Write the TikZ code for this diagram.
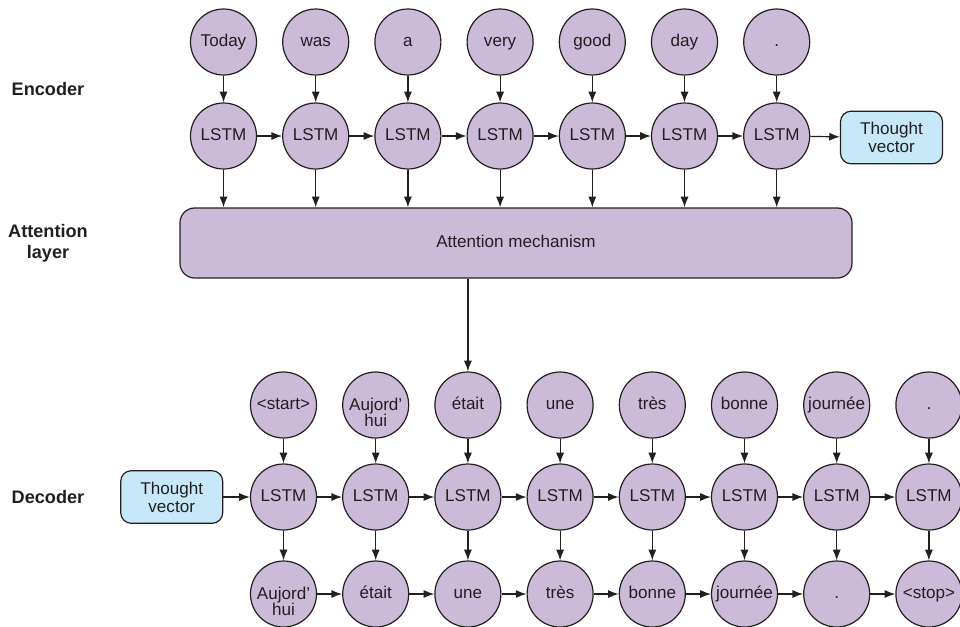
\documentclass[tikz,border=0pt]{standalone}
\usepackage{fontspec}
\setmainfont{Liberation Sans}
\usetikzlibrary{arrows.meta}
\definecolor{lstmfill}{RGB}{203,186,216}
\definecolor{tvfill}{RGB}{198,232,248}
\definecolor{edge}{RGB}{35,31,32}
\newcommand{\mytwo}[2]{\raisebox{-13pt}[0pt][0pt]{\vbox{\baselineskip=12pt\halign{\hfil##\hfil\cr #1\cr #2\cr}}}}
\begin{document}
\begin{tikzpicture}[x=0.75pt,y=-0.75pt,
  cell/.style={circle,draw=edge,fill=lstmfill,line width=0.9pt,minimum size=49.5pt,inner sep=0pt,align=center,text=edge,text height=9.2pt,text depth=2.8pt,font=\fontsize{12.8}{12.8}\selectfont},
  tvbox/.style={rounded corners=8pt,draw=edge,fill=tvfill,line width=0.9pt,minimum width=76.5pt,minimum height=39.5pt,inner sep=0pt,align=center,text=edge,font=\fontsize{12.8}{13.5}\selectfont},
  attbox/.style={rounded corners=11pt,draw=edge,fill=lstmfill,line width=0.9pt,minimum width=504pt,minimum height=52.5pt,inner sep=0pt,text=edge,text height=9.2pt,text depth=2.8pt,font=\fontsize{12.8}{13.5}\selectfont},
  lab/.style={font=\bfseries\fontsize{13.6}{15.5}\selectfont,align=center,text=edge},
  arr/.style={-{Latex[length=8pt,width=6pt]},line width=0.9pt,draw=edge}
]
\useasboundingbox (0,0) rectangle (960,626);

% labels
\node[lab] (lenc) at (48,89) {Encoder};
\node[lab] (latt) at (48,243) {Attention\\layer};
\node[lab] (ldec) at (48,497) {Decoder};

% encoder
\foreach \w [count=\i] in {Today,was,a,very,good,day,.} {
  \node[cell] (ew\i) at ({223.5+(\i-1)*92.2},42) {\w};
  \node[cell] (eh\i) at ({223.5+(\i-1)*92.2},136) {LSTM};
}
\node[tvbox] (tve) at (891.5,137.5) {Thought\\vector};
\node[attbox] (att) at (516,243) {Attention mechanism};

\foreach \i in {1,...,7} {
  \draw[arr] (ew\i) -- (eh\i);
  \draw[arr] (eh\i) -- (eh\i |- att.north);
}
\foreach \i [evaluate=\i as \j using int(\i+1)] in {1,...,6} {
  \draw[arr] (eh\i) -- (eh\j);
}
\draw[arr] (eh7) -- (tve);

% decoder
\foreach \w [count=\i] in {{<start>},{\mytwo{Aujord’}{hui}},{était},{une},{très},{bonne},{journée},{.}} {
  \node[cell] (dw\i) at ({283.5+(\i-1)*92.2},405) {\w};
  \node[cell] (dh\i) at ({283.5+(\i-1)*92.2},497) {LSTM};
}
\foreach \w [count=\i] in {{\mytwo{Aujord’}{hui}},{était},{une},{très},{bonne},{journée},{.},{<stop>}} {
  \node[cell] (do\i) at ({283.5+(\i-1)*92.2},594) {\w};
}
\node[tvbox] (tvd) at (171.7,497) {Thought\\vector};

\draw[arr] (att.south -| dw3) -- (dw3);
\draw[arr] (tvd) -- (dh1);
\foreach \i in {1,...,8} {
  \draw[arr] (dw\i) -- (dh\i);
  \draw[arr] (dh\i) -- (do\i);
}
\foreach \i [evaluate=\i as \j using int(\i+1)] in {1,...,7} {
  \draw[arr] (dh\i) -- (dh\j);
  \draw[arr] (do\i) -- (do\j);
}
\end{tikzpicture}
\end{document}
